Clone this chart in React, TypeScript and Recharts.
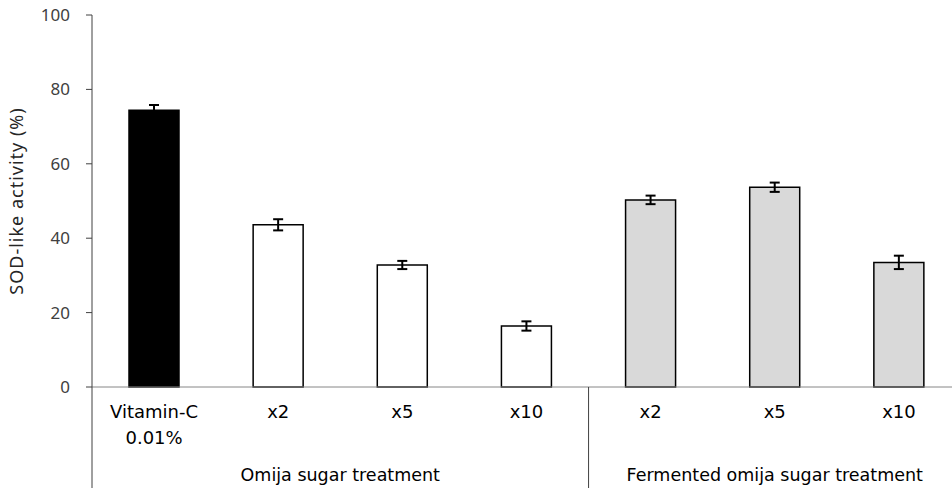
import React from 'react';
import { BarChart, Bar, XAxis, YAxis, Cell, ErrorBar } from 'recharts';

const categories = ['Vitamin-C\n0.01%', 'x2', 'x5', 'x10', 'x2', 'x5', 'x10'];
const values = [74.4, 43.6, 32.8, 16.4, 50.3, 53.7, 33.5];
const errors = [1.4, 1.5, 1.1, 1.25, 1.15, 1.25, 1.8];
const fills = ['#000000', '#ffffff', '#ffffff', '#ffffff', '#d9d9d9', '#d9d9d9', '#d9d9d9'];
const groups = ['Omija sugar treatment', 'Fermented omija sugar treatment'];
const groupStart = [0, 4];
const groupSize = [4, 3];
const yTicks = [0, 20, 40, 60, 80, 100];

const data = categories.map((c, i) => ({ key: i, name: c, value: values[i], err: errors[i] }));

const LABEL_FONT = '"DejaVu Sans", sans-serif';

const CategoryTick = (props: any) => {
  const { x, y, payload, width } = props;
  const idx: number = payload.index ?? payload.value;
  const n = categories.length;
  const band = width / n;
  const lines = categories[idx].split('\n');
  const out: any[] = [];
  lines.forEach((l, li) => {
    out.push(
      <text key={'l' + li} x={x} y={y + 31 + li * 26} textAnchor="middle" fontSize={18} fontFamily={LABEL_FONT} fill="#000">
        {l}
      </text>
    );
  });
  groupStart.forEach((gs, gi) => {
    if (idx === gs) {
      const left = x - band / 2;
      out.push(<line key={'v' + gi} x1={left} x2={left} y1={y} y2={y + 110} stroke="#404040" strokeWidth={1} />);
      const cx = left + (band * groupSize[gi]) / 2;
      out.push(
        <text key={'g' + gi} x={cx} y={y + 94} textAnchor="middle" fontSize={17.5} fontFamily={LABEL_FONT} fill="#000">
          {groups[gi]}
        </text>
      );
    }
  });
  return <g>{out}</g>;
};

export default function App() {
  return (
    <div style={{ position: 'fixed', left: 0, top: 0, width: 952, height: 488, overflow: 'hidden', background: '#fff' }}>
      <BarChart
        width={980}
        height={488}
        data={data}
        margin={{ top: 15, right: 19, bottom: 0, left: 0 }}
        barCategoryGap="30%"
      >
        <XAxis
          dataKey="key"
          type="category"
          height={101}
          tickLine={false}
          tickSize={0}
          tickMargin={0}
          axisLine={{ stroke: '#868686', strokeWidth: 1 }}
          tick={<CategoryTick />}
          interval={0}
        />
        <YAxis
          width={92}
          domain={[0, 100]}
          ticks={yTicks}
          tickSize={6}
          tickMargin={16}
          axisLine={{ stroke: '#404040', strokeWidth: 1 }}
          tickLine={{ stroke: '#404040', strokeWidth: 1 }}
          tick={{ fontSize: 17, fontFamily: '"Noto Sans", sans-serif', fill: '#404040' }}
          label={{
            value: 'SOD-like activity (%)',
            angle: -90,
            position: 'insideLeft',
            offset: 0,
            dx: 17,
            style: { fontSize: 18, letterSpacing: 1, fontFamily: '"Noto Sans", sans-serif', fill: '#262626', textAnchor: 'middle' },
          }}
        />
        <Bar dataKey="value" barSize={50} stroke="#000" strokeWidth={1.5} isAnimationActive={false}>
          {data.map((d, i) => (
            <Cell key={i} fill={fills[i]} />
          ))}
          <ErrorBar dataKey="err" width={5} stroke="#000" strokeWidth={2} direction="y" />
        </Bar>
      </BarChart>
    </div>
  );
}
